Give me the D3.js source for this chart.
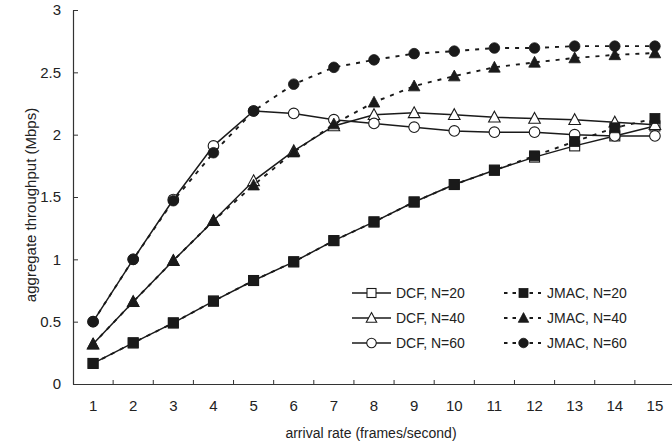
<!DOCTYPE html>
<html><head><meta charset="utf-8">
<script src="https://cdn.jsdelivr.net/npm/d3@7"></script>
<style>
body{margin:0;background:#fff;}
svg{display:block;font-family:"Liberation Sans",Arial,sans-serif;}
</style></head>
<body><svg id="c" width="672" height="445"></svg>
<script>
const categories = [1,2,3,4,5,6,7,8,9,10,11,12,13,14,15];
const yTicks = [0,0.5,1,1.5,2,2.5,3];
const yTickLabels = ["0","0.5","1","1.5","2","2.5","3"];

const dcf20  = [0.165,0.33,0.49,0.665,0.83,0.98,1.15,1.30,1.46,1.60,1.715,1.82,1.91,1.99,2.07];
const dcf40  = [0.32,0.66,0.99,1.31,1.63,1.87,2.07,2.16,2.175,2.16,2.14,2.13,2.12,2.10,2.08];
const dcf60  = [0.5,1.0,1.48,1.91,2.19,2.17,2.12,2.09,2.06,2.03,2.02,2.02,2.0,1.99,1.99];
const jmac20 = [0.165,0.33,0.49,0.665,0.83,0.98,1.15,1.30,1.46,1.60,1.715,1.83,1.945,2.055,2.13];
const jmac40 = [0.32,0.66,0.99,1.31,1.595,1.86,2.085,2.26,2.39,2.47,2.54,2.58,2.615,2.64,2.655];
const jmac60 = [0.5,1.0,1.47,1.855,2.19,2.405,2.54,2.60,2.65,2.67,2.695,2.695,2.71,2.71,2.71];

const seriesNames = ["DCF, N=20","DCF, N=40","DCF, N=60","JMAC, N=20","JMAC, N=40","JMAC, N=60"];
const seriesValues = [dcf20,dcf40,dcf60,jmac20,jmac40,jmac60];
const seriesShape = ["square","triangle","circle","square","triangle","circle"];
const seriesFilled = [false,false,false,true,true,true];

const svg = d3.select("#c");
const L = 73, R = 675, T = 10, B = 384;
const x = d3.scaleBand().domain(categories).range([L, R]).paddingInner(0).paddingOuter(0);
const y = d3.scaleLinear().domain([0,3]).range([B, T]);
const ink = "#1a1a1a";

// axes
const yAxis = d3.axisLeft(y).tickValues(yTicks).tickFormat((d,i)=>yTickLabels[i]).tickSizeInner(-5).tickSizeOuter(0).tickPadding(12);
const gy = svg.append("g").attr("transform",`translate(${L},0)`).call(yAxis);
gy.select(".domain").attr("stroke","#333").attr("stroke-width",1.2);
gy.selectAll(".tick line").attr("stroke","#333").attr("stroke-width",1);
gy.selectAll("text").attr("font-size",15).attr("fill","#222").attr("font-family","Liberation Sans, Arial, sans-serif");

const xAxis = d3.axisBottom(x).tickSize(0).tickPadding(16);
const gx = svg.append("g").attr("transform",`translate(0,${B})`).call(xAxis);
gx.select(".domain").attr("stroke","#333").attr("stroke-width",1.2);
gx.selectAll("text").attr("font-size",15).attr("fill","#222").attr("font-family","Liberation Sans, Arial, sans-serif");
// tick marks at band boundaries
gx.selectAll(".bnd").data(categories.slice(1)).enter().append("line")
  .attr("x1",d=>x(d)).attr("x2",d=>x(d)).attr("y1",0).attr("y2",-4)
  .attr("stroke","#333").attr("stroke-width",1);

// titles
svg.append("text").attr("x",(L+R)/2 - 3).attr("y",438).attr("text-anchor","middle")
  .attr("font-size",14).attr("fill","#222").text("arrival rate (frames/second)");
svg.append("text").attr("transform","translate(31,205) rotate(-90)").attr("text-anchor","middle")
  .attr("dy","0.35em").attr("font-size",15).attr("fill","#222").text("aggregate throughput (Mbps)");

const cx = d => x(d) + x.bandwidth()/2;

function marker(g, shape, filled, px, py, s){
  s = s || 1;
  const fill = filled ? ink : "#fff";
  const sw = filled ? 0.8 : 1.1;
  if(shape==="square"){
    g.append("rect").attr("x",px-5*s).attr("y",py-5*s).attr("width",10*s).attr("height",10*s)
      .attr("fill",fill).attr("stroke",ink).attr("stroke-width",sw);
  } else if(shape==="circle"){
    g.append("circle").attr("cx",px).attr("cy",py).attr("r",5.3*s)
      .attr("fill",fill).attr("stroke",ink).attr("stroke-width",sw);
  } else {
    g.append("path").attr("d",`M${px},${py-6*s}L${px+5.8*s},${py+4.8*s}L${px-5.8*s},${py+4.8*s}Z`)
      .attr("fill",fill).attr("stroke",ink).attr("stroke-width",sw);
  }
}

const line = d3.line().x((d,i)=>cx(categories[i])).y(d=>y(d));
const plot = svg.append("g");
seriesValues.forEach((vals,si)=>{
  const g = plot.append("g");
  g.append("path").attr("d",line(vals)).attr("fill","none").attr("stroke",ink)
    .attr("stroke-width", seriesFilled[si] ? 1.9 : 1.5)
    .attr("stroke-dasharray", seriesFilled[si] ? "4,6" : null);
  vals.forEach((v,i)=>marker(g, seriesShape[si], seriesFilled[si], cx(categories[i]), y(v)));
});

// legend
const legRows = [293,318,343];
const leg = svg.append("g");
seriesNames.forEach((name,si)=>{
  const col = si<3 ? 0 : 1;
  const row = si%3;
  const yy = legRows[row];
  const x0 = col===0 ? 352 : 504, x1 = col===0 ? 391 : 541, mx = col===0 ? 371.5 : 523.5;
  const tx = col===0 ? 396 : 547;
  leg.append("line").attr("x1",x0).attr("x2",x1).attr("y1",yy).attr("y2",yy)
    .attr("stroke",ink).attr("stroke-width", seriesFilled[si]?1.9:1.5)
    .attr("stroke-dasharray", seriesFilled[si] ? "3.5,5" : null);
  marker(leg, seriesShape[si], seriesFilled[si], mx, yy, 0.9);
  leg.append("text").attr("x",tx).attr("y",yy).attr("dy","0.36em").attr("font-size",14)
    .attr("fill","#222").text(name);
});
</script></body></html>
